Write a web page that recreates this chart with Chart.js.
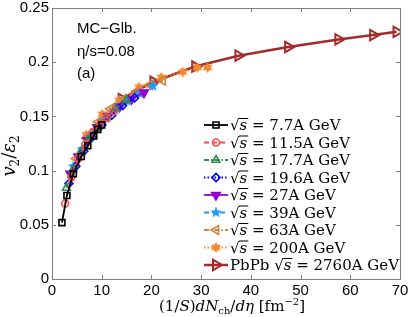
<!DOCTYPE html>
<html>
<head>
<meta charset="utf-8">
<script src="https://cdn.jsdelivr.net/npm/chart.js@4.4.1/dist/chart.umd.min.js"></script>
<style>
  html, body { margin: 0; padding: 0; background: #fff; }
  #wrap { width: 409px; height: 317px; }
</style>
</head>
<body>
<div id="wrap"><canvas id="c" width="409" height="317"></canvas></div>
<script>
// values
const x7p7 = [2.0, 3.0, 4.3, 5.9, 7.2, 8.4, 9.2, 10.0];
const y7p7 = [0.052, 0.077, 0.097, 0.113, 0.123, 0.132, 0.138, 0.142];
const x11p5 = [2.65, 3.9, 5.3, 6.7, 8.2, 9.7, 11.0, 12.4];
const y11p5 = [0.0697, 0.094, 0.111, 0.124, 0.135, 0.143, 0.149, 0.155];
const x17p7 = [2.9, 4.2, 5.7, 7.3, 9.0, 10.8, 12.8, 15.0];
const y17p7 = [0.084, 0.101, 0.117, 0.129, 0.139, 0.148, 0.157, 0.165];
const x19p6 = [3.4, 4.8, 6.4, 8.1, 10.0, 12.0, 14.2, 16.6];
const y19p6 = [0.088, 0.104, 0.118, 0.131, 0.142, 0.151, 0.160, 0.167];
const x27 = [3.7, 5.3, 7.1, 9.1, 11.3, 13.6, 16.0, 18.5];
const y27 = [0.097, 0.113, 0.128, 0.140, 0.150, 0.159, 0.166, 0.172];
const x39 = [4.3, 6.1, 8.1, 10.3, 12.7, 15.1, 17.6, 20.3];
const y39 = [0.104, 0.120, 0.134, 0.146, 0.156, 0.164, 0.171, 0.178];
const x63 = [4.9, 7.0, 9.3, 11.8, 14.4, 17.0, 19.7, 22.3];
const y63 = [0.111, 0.130, 0.145, 0.157, 0.166, 0.173, 0.179, 0.183];
const x200 = [6.9, 10.1, 13.5, 17.5, 22.0, 26.3, 29.2, 31.3];
const y200 = [0.133, 0.152, 0.165, 0.177, 0.186, 0.191, 0.195, 0.195];
const xPbPb = [14.0, 20.4, 28.8, 37.5, 47.5, 57.6, 64.6, 69.3];
const yPbPb = [0.166, 0.182, 0.196, 0.206, 0.214, 0.221, 0.225, 0.228];

const energies = ['7.7A', '11.5A', '17.7A', '19.6A', '27A', '39A', '63A', '200A', '2760A'];
const xTicks = [0, 10, 20, 30, 40, 50, 60, 70];
const yTicks = [0, 0.05, 0.1, 0.15, 0.2, 0.25];
const yTickLabels = ['0', '0.05', '0.1', '0.15', '0.2', '0.25'];

const SERIF = '"DejaVu Serif", "Liberation Serif", serif';
const SANS = '"Liberation Sans", Arial, sans-serif';

function starCanvas(color, n, outer, inner) {
  const c = document.createElement('canvas');
  const s = Math.ceil(outer * 2 + 2);
  c.width = s; c.height = s;
  const g = c.getContext('2d');
  g.beginPath();
  for (let i = 0; i < n * 2; i++) {
    const r = i % 2 ? inner : outer;
    const a = -Math.PI / 2 + i * Math.PI / n;
    g.lineTo(s / 2 + r * Math.cos(a), s / 2 + r * Math.sin(a));
  }
  g.closePath();
  g.fillStyle = color;
  g.fill();
  return c;
}

const series = [
  { x: x7p7, y: y7p7, color: '#000000', dash: [], style: 'rect', r: 4.2, rot: 0, fill: false },
  { x: x11p5, y: y11p5, color: '#ff4848', dash: [5, 3], style: 'circle', r: 3.5, rot: 0, fill: false },
  { x: x17p7, y: y17p7, color: '#2e8b57', dash: [5, 2, 1.5, 2], style: 'triangle', r: 4.5, rot: 0, fill: false },
  { x: x19p6, y: y19p6, color: '#0000ff', dash: [1.5, 2], style: 'rectRot', r: 4, rot: 0, fill: false },
  { x: x27, y: y27, color: '#9400d3', dash: [], style: 'triangle', r: 5, rot: 180, fill: true },
  { x: x39, y: y39, color: '#1e9bff', dash: [5, 3], style: starCanvas('#1e9bff', 5, 6, 2.6), r: 6, rot: 0, fill: true },
  { x: x63, y: y63, color: '#cd853f', dash: [5, 2, 1.5, 2], style: 'triangle', r: 5, rot: -90, fill: false },
  { x: x200, y: y200, color: '#f28a30', dash: [1.5, 2], style: starCanvas('#f28a30', 6, 5.5, 3.2), r: 5.5, rot: 0, fill: true },
  { x: xPbPb, y: yPbPb, color: '#a52a2a', dash: [], style: 'triangle', r: 6, rot: 90, fill: false, lw: 2.5 }
];

const datasets = series.map((s, i) => ({
  label: energies[i],
  data: s.x.map((v, j) => ({ x: v, y: s.y[j] })),
  borderColor: s.color,
  backgroundColor: s.fill ? s.color : 'rgba(255,255,255,0)',
  borderWidth: s.lw || 1.8,
  borderDash: s.dash,
  pointStyle: s.style,
  pointRadius: s.r,
  pointRotation: s.rot,
  pointBorderWidth: s.lw ? 2 : 1.6,
  pointBorderColor: s.color,
  pointBackgroundColor: s.fill ? s.color : 'rgba(255,255,255,0)',
  showLine: true,
  tension: 0
}));

function drawSqrtS(ctx, x, y, size) {
  ctx.font = size + 'px ' + SERIF;
  ctx.fillText('\u221A', x, y);
  const w1 = ctx.measureText('\u221A').width;
  ctx.font = 'italic ' + size + 'px ' + SERIF;
  ctx.fillText('s', x + w1, y);
  const ws = ctx.measureText('s').width;
  ctx.fillRect(x + w1 - 0.5, y - size * 0.8, ws + 1.5, 1);
  return w1 + ws;
}

const frame = {
  id: 'frame',
  afterDatasetsDraw(chart) {
    const { ctx, chartArea: a, scales } = chart;
    ctx.save();
    ctx.strokeStyle = '#808080';
    ctx.lineWidth = 1;
    ctx.strokeRect(Math.round(a.left) + 0.5, Math.round(a.top) + 0.5,
      Math.round(a.right - a.left), Math.round(a.bottom - a.top));
    ctx.beginPath();
    xTicks.forEach(v => {
      const px = Math.round(scales.x.getPixelForValue(v)) + 0.5;
      ctx.moveTo(px, a.bottom); ctx.lineTo(px, a.bottom - 4);
      ctx.moveTo(px, a.top); ctx.lineTo(px, a.top + 4);
    });
    yTicks.forEach(v => {
      const py = Math.round(scales.y.getPixelForValue(v)) + 0.5;
      ctx.moveTo(a.left, py); ctx.lineTo(a.left + 4, py);
      ctx.moveTo(a.right, py); ctx.lineTo(a.right - 4, py);
    });
    ctx.stroke();

    // annotations
    ctx.fillStyle = '#000';
    ctx.font = '15px ' + SANS;
    ctx.textBaseline = 'alphabetic';
    ctx.fillText('MC\u2212Glb.', 77, 33);
    ctx.fillText('\u03B7/s=0.08', 77, 56);
    ctx.fillText('(a)', 77, 78);

    // legend
    const lx0 = 204, lx1 = 228, tx = 230, fs = 15;
    chart.data.datasets.forEach((ds, i) => {
      const y = 125 + 17.5 * i;
      ctx.save();
      ctx.strokeStyle = ds.borderColor;
      ctx.lineWidth = ds.borderWidth;
      ctx.setLineDash(ds.borderDash);
      ctx.beginPath(); ctx.moveTo(lx0, y); ctx.lineTo(lx1, y); ctx.stroke();
      ctx.restore();
      ctx.save();
      ctx.strokeStyle = ds.pointBorderColor;
      ctx.fillStyle = ds.pointBackgroundColor;
      ctx.lineWidth = ds.pointBorderWidth;
      Chart.helpers.drawPoint(ctx, {
        pointStyle: ds.pointStyle, rotation: ds.pointRotation,
        radius: ds.pointRadius, borderWidth: ds.pointBorderWidth
      }, (lx0 + lx1) / 2, y);
      ctx.restore();
      ctx.fillStyle = '#000';
      let x = tx;
      const base = y + 5;
      if (i === 8) {
        ctx.font = fs + 'px ' + SERIF;
        ctx.fillText('PbPb ', x, base);
        x += ctx.measureText('PbPb ').width;
      }
      x += drawSqrtS(ctx, x, base, fs);
      ctx.font = fs + 'px ' + SERIF;
      ctx.fillText(' = ' + ds.label + ' GeV', x, base);
    });

    // x title
    const parts = [
      ['(1/', ''], ['S', 'i'], [')', ''], ['dN', 'i'], ['ch', 'sub'], ['/', ''], ['d\u03B7', 'i'],
      [' [fm', ''], ['\u22122', 'sup'], [']', '']
    ];
    const fontFor = t => t === 'i' ? 'italic 15px ' + SERIF : (t === 'sub' || t === 'sup') ? '10px ' + SERIF : '15px ' + SERIF;
    let tw = 0;
    parts.forEach(p => { ctx.font = fontFor(p[1]); tw += ctx.measureText(p[0]).width; });
    let px = 232 - tw / 2;
    parts.forEach(p => {
      ctx.font = fontFor(p[1]);
      const dy = p[1] === 'sub' ? 3 : p[1] === 'sup' ? -6 : 0;
      ctx.fillText(p[0], px, 311 + dy);
      px += ctx.measureText(p[0]).width;
    });

    // y title
    ctx.translate(15, 156);
    ctx.rotate(-Math.PI / 2);
    const yFont = t => t === 'i' ? 'italic 18px ' + SERIF : t === 'sub' ? '12px ' + SERIF : '18px ' + SERIF;
    const yp = [['v', 'i'], ['2', 'sub'], ['/', ''], ['\u03B5', 'i'], ['2', 'sub']];
    tw = 0;
    yp.forEach(p => { ctx.font = yFont(p[1]); tw += ctx.measureText(p[0]).width; });
    px = -tw / 2;
    yp.forEach(p => {
      ctx.font = yFont(p[1]);
      ctx.fillText(p[0], px, p[1] === 'sub' ? 4 : 0);
      px += ctx.measureText(p[0]).width;
    });
    ctx.restore();
  }
};

new Chart(document.getElementById('c'), {
  type: 'scatter',
  data: { datasets },
  options: {
    responsive: false,
    animation: false,
    layout: { padding: { top: 5, right: 9, left: 0, bottom: 0 } },
    plugins: { legend: { display: false }, tooltip: { enabled: false } },
    scales: {
      x: {
        min: 0, max: 70,
        afterBuildTicks: s => { s.ticks = xTicks.map(v => ({ value: v })); },
        afterFit: s => { s.height = 38; s.paddingLeft = 0; s.paddingRight = 0; },
        grid: { display: false, drawTicks: false },
        border: { display: false },
        ticks: { color: '#000', font: { family: SANS, size: 15 }, padding: 3, maxRotation: 0 }
      },
      y: {
        min: 0, max: 0.25,
        afterBuildTicks: s => { s.ticks = yTicks.map(v => ({ value: v })); },
        afterFit: s => { s.width = 52; s.paddingTop = 0; s.paddingBottom = 0; },
        grid: { display: false, drawTicks: false },
        border: { display: false },
        ticks: {
          color: '#000', font: { family: SANS, size: 15 }, padding: 3,
          callback: (v, i) => yTickLabels[i]
        }
      }
    }
  },
  plugins: [frame]
});
</script>
</body>
</html>
